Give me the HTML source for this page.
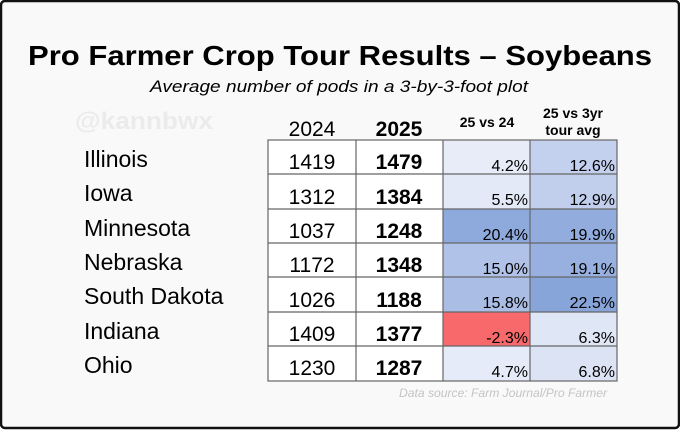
<!DOCTYPE html>
<html><head><style>
html,body{margin:0;padding:0;background:#fff;}
svg{display:block;}
</style></head><body>
<svg width="680" height="430" viewBox="0 0 680 430" xmlns="http://www.w3.org/2000/svg" font-family="Liberation Sans, Arial, sans-serif">
<rect x="1" y="1" width="678" height="427" rx="4" fill="#f9f9f9" stroke="#111" stroke-width="2.5"/>
<text x="340" y="65" text-anchor="middle" font-size="28" font-weight="bold" textLength="624" lengthAdjust="spacingAndGlyphs">Pro Farmer Crop Tour Results – Soybeans</text>
<text x="339" y="92" text-anchor="middle" font-size="17" font-style="italic" textLength="378" lengthAdjust="spacingAndGlyphs">Average number of pods in a 3-by-3-foot plot</text>
<text x="75" y="129" font-size="24" font-weight="bold" fill="#ebebeb" textLength="138" lengthAdjust="spacingAndGlyphs">@kannbwx</text>
<g font-size="23" fill="#000">
<text x="84" y="167">Illinois</text>
<text x="84" y="201">Iowa</text>
<text x="84" y="236">Minnesota</text>
<text x="84" y="270">Nebraska</text>
<text x="84" y="304">South Dakota</text>
<text x="84" y="339">Indiana</text>
<text x="84" y="373">Ohio</text>
</g>
<text x="312" y="136" text-anchor="middle" font-size="21">2024</text>
<text x="399" y="136" text-anchor="middle" font-size="21" font-weight="bold">2025</text>
<text x="487" y="127" text-anchor="middle" font-size="14" font-weight="bold">25 vs 24</text>
<text x="573" y="118" text-anchor="middle" font-size="14" font-weight="bold">25 vs 3yr</text>
<text x="573" y="135" text-anchor="middle" font-size="14" font-weight="bold">tour avg</text>
<g>
<rect x="268" y="140" width="175" height="241" fill="#fff"/>
<rect x="443" y="140" width="87" height="34" fill="#e7ecf8"/><rect x="530" y="140" width="87" height="34" fill="#c3d0ee"/>
<rect x="443" y="174" width="87" height="35" fill="#e3e9f7"/><rect x="530" y="174" width="87" height="35" fill="#c1cfed"/>
<rect x="443" y="209" width="87" height="34" fill="#8eaadc"/><rect x="530" y="209" width="87" height="34" fill="#92acdd"/>
<rect x="443" y="243" width="87" height="34" fill="#b0c2e7"/><rect x="530" y="243" width="87" height="34" fill="#98b0df"/>
<rect x="443" y="277" width="87" height="35" fill="#aabde5"/><rect x="530" y="277" width="87" height="35" fill="#88a5da"/>
<rect x="443" y="312" width="87" height="34" fill="#f8696b"/><rect x="530" y="312" width="87" height="34" fill="#dfe6f5"/>
<rect x="443" y="346" width="87" height="35" fill="#e5ebf8"/><rect x="530" y="346" width="87" height="35" fill="#dbe3f4"/>
</g>
<g stroke="#666" stroke-width="1.2" fill="none">
<rect x="268" y="140" width="349" height="241"/>
<line x1="356" y1="140" x2="356" y2="381"/><line x1="443" y1="140" x2="443" y2="381"/><line x1="530" y1="140" x2="530" y2="381"/>
<line x1="268" y1="174" x2="617" y2="174"/><line x1="268" y1="209" x2="617" y2="209"/><line x1="268" y1="243" x2="617" y2="243"/>
<line x1="268" y1="277" x2="617" y2="277"/><line x1="268" y1="312" x2="617" y2="312"/><line x1="268" y1="346" x2="617" y2="346"/>
</g>
<g font-size="21" text-anchor="middle">
<text x="312" y="169">1419</text><text x="312" y="204">1312</text><text x="312" y="238">1037</text><text x="312" y="272">1172</text><text x="312" y="307">1026</text><text x="312" y="341">1409</text><text x="312" y="375">1230</text>
</g>
<g font-size="21" font-weight="bold" text-anchor="middle">
<text x="399" y="169">1479</text><text x="399" y="204">1384</text><text x="399" y="238">1248</text><text x="399" y="272">1348</text><text x="399" y="307">1188</text><text x="399" y="341">1377</text><text x="399" y="375">1287</text>
</g>
<g font-size="16" text-anchor="end">
<text x="528" y="171">4.2%</text><text x="615" y="171">12.6%</text>
<text x="528" y="205">5.5%</text><text x="615" y="205">12.9%</text>
<text x="528" y="240">20.4%</text><text x="615" y="240">19.9%</text>
<text x="528" y="274">15.0%</text><text x="615" y="274">19.1%</text>
<text x="528" y="308">15.8%</text><text x="615" y="308">22.5%</text>
<text x="528" y="343">-2.3%</text><text x="615" y="343">6.3%</text>
<text x="528" y="377">4.7%</text><text x="615" y="377">6.8%</text>
</g>
<text x="399" y="397" font-size="11.5" font-style="italic" fill="#c4c4c4" textLength="208" lengthAdjust="spacingAndGlyphs">Data source: Farm Journal/Pro Farmer</text>
</svg>
</body></html>
